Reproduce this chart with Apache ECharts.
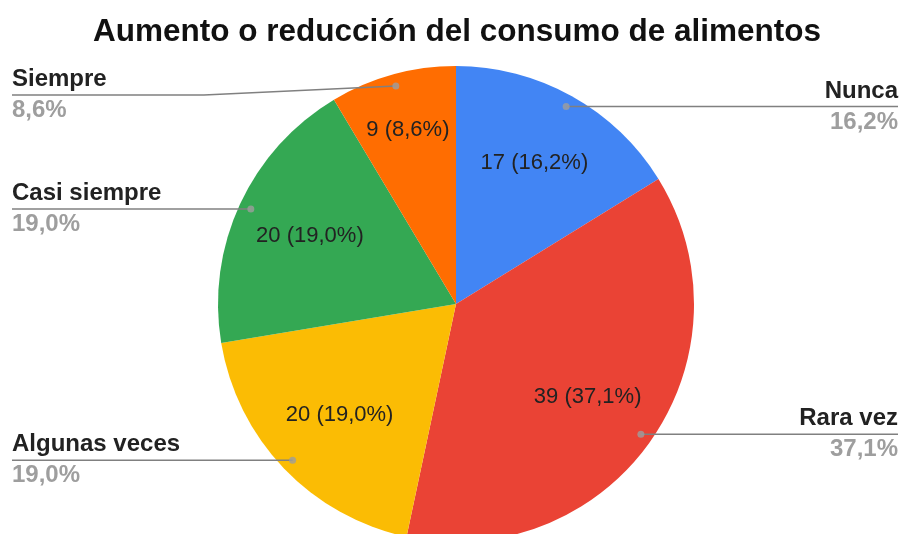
<!DOCTYPE html>
<html>
<head>
<meta charset="utf-8">
<script src="https://cdn.jsdelivr.net/npm/echarts@6/dist/echarts.min.js"></script>
<style>
  html, body { margin: 0; background: #fff; }
  #chart { width: 902px; height: 534px; }
</style>
</head>
<body>
<div id="chart"></div>
<script>
const categories = ['Nunca', 'Rara vez', 'Algunas veces', 'Casi siempre', 'Siempre'];
const values = [17, 39, 20, 20, 9];
const colors = ['#4285F4', '#EA4335', '#FBBC04', '#34A853', '#FF6D01'];

const FONT = '"Liberation Sans", Arial, sans-serif';
const CX = 456, CY = 304, R = 238;
const total = values.reduce((a, b) => a + b, 0);

// angulo medio de cada sector (en unidades de valor)
const mids = [];
let acc = 0;
values.forEach(v => { mids.push(acc + v / 2); acc += v; });

const pct = v => (v / total * 100).toFixed(1).replace('.', ',');

const data = categories.map((name, i) => ({ name, value: values[i], itemStyle: { color: colors[i] } }));
const ghost = categories.map((name, i) => ({ name, value: values[i] }));

const chart = echarts.init(document.getElementById('chart'));

chart.setOption({
  animation: false,
  backgroundColor: '#fff',
  title: {
    text: 'Aumento o reducción del consumo de alimentos',
    left: 88,
    top: 11,
    textStyle: { fontFamily: FONT, fontSize: 31.5, fontWeight: 'bold', color: '#111' }
  },
  polar: { center: [CX, CY], radius: R },
  angleAxis: { type: 'value', min: 0, max: total, startAngle: 90, clockwise: true, show: false },
  radiusAxis: { type: 'value', min: 0, max: 1, show: false },
  series: [
    {
      type: 'pie',
      center: [CX, CY],
      radius: R,
      startAngle: 90,
      clockwise: true,
      silent: true,
      data,
      label: { show: false },
      labelLine: { show: false }
    },
    {
      // etiquetas interiores
      type: 'pie',
      center: [CX, CY],
      radius: [78, R],
      startAngle: 90,
      silent: true,
      data: ghost,
      itemStyle: { color: 'transparent' },
      label: {
        position: 'inside',
        fontFamily: FONT,
        fontSize: 22,
        color: '#222',
        formatter: p => p.value + ' (' + pct(p.value) + '%)'
      },
      labelLine: { show: false },
      labelLayout: params => {
        // los sectores estrechos llevan la etiqueta mas hacia fuera
        const i = params.dataIndex;
        if (values[i] / total >= 0.1) return {};
        const a = mids[i] / total * Math.PI * 2;
        return {
          x: CX + 0.76 * R * Math.sin(a),
          y: CY - 0.76 * R * Math.cos(a),
          align: 'center',
          verticalAlign: 'middle'
        };
      }
    },
    {
      // etiquetas exteriores con linea
      type: 'pie',
      center: [CX, CY],
      radius: R,
      startAngle: 90,
      silent: true,
      z: 5,
      data: ghost,
      itemStyle: { color: 'transparent' },
      label: {
        position: 'outside',
        formatter: p => '{n|' + p.name + '}\n{p|' + pct(p.value) + '%}',
        rich: {
          n: { fontFamily: FONT, fontSize: 24, fontWeight: 'bold', color: '#222', lineHeight: 31 },
          p: { fontFamily: FONT, fontSize: 24, fontWeight: 'bold', color: '#9e9e9e', lineHeight: 31 }
        }
      },
      labelLine: { show: true, lineStyle: { color: '#808080', width: 1.5 } },
      labelLayout: params => {
        const i = params.dataIndex;
        const a = mids[i] / total * Math.PI * 2;
        const dx = CX + 0.95 * R * Math.sin(a);
        const dy = CY - 0.95 * R * Math.cos(a);
        const right = Math.sin(a) > 0;
        const edge = right ? 898 : 12;
        const ly = Math.max(dy, 95);
        return {
          x: edge,
          y: ly,
          align: right ? 'right' : 'left',
          verticalAlign: 'middle',
          labelLinePoints: [[dx, dy], [(dx + edge) / 2, ly], [edge, ly]]
        };
      }
    },
    {
      type: 'scatter',
      coordinateSystem: 'polar',
      silent: true,
      z: 6,
      symbolSize: 7,
      itemStyle: { color: '#9e9e9e' },
      data: mids.map(m => [0.95, m])
    }
  ]
});
</script>
</body>
</html>
